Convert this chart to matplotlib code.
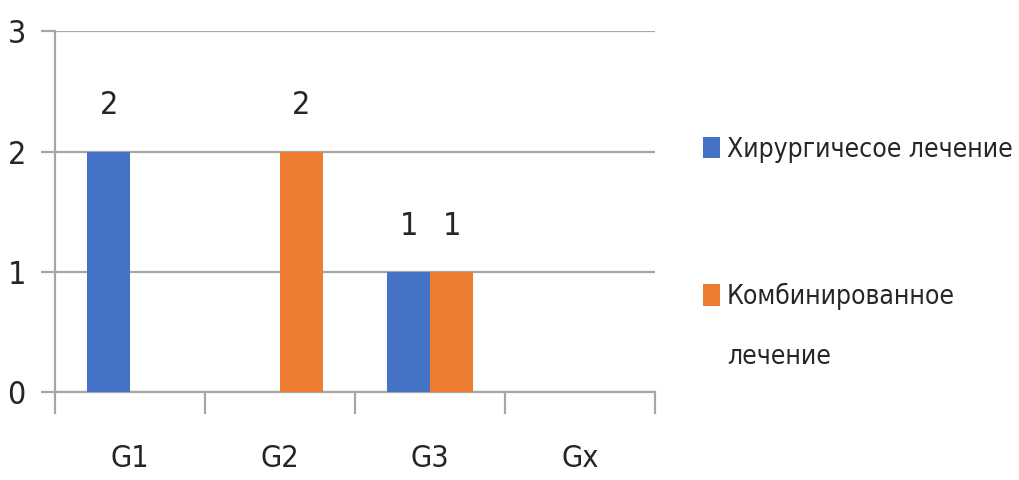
import numpy as np
import matplotlib.pyplot as plt

# Данные
categories = ['G1', 'G2', 'G3', 'Gx']
surgery = [2, 0, 1, 0]
combined = [0, 2, 1, 0]
surgery_label = 'Хирургичесое лечение'
combined_label = 'Комбинированное'
combined_label_2 = 'лечение'

plt.rcParams['font.family'] = ['DejaVu Sans']
plt.rcParams['font.stretch'] = 'condensed'

fig = plt.figure(figsize=(10.19, 4.8), dpi=100)
ax = fig.add_axes([0.054, 0.183, 0.589, 0.752])

x = np.arange(len(categories))
w = 0.285
b1 = ax.bar(x - w / 2, surgery, w, color='#4472C4', label=surgery_label, zorder=3)
b2 = ax.bar(x + w / 2, combined, w, color='#ED7D31', label=combined_label, zorder=3)

# Подписи значений (нули не подписываем)
for bars in (b1, b2):
    for rect in bars:
        h = rect.get_height()
        if h > 0:
            ax.annotate(f'{h:g}', (rect.get_x() + rect.get_width() / 2, h),
                        xytext=(0, 33), textcoords='offset points',
                        ha='center', va='center', fontsize=23, color='#262626')

ax.set_xlim(-0.5, len(categories) - 0.5)
ax.set_ylim(0, 3)
ax.set_yticks([0, 1, 2, 3])
ax.yaxis.grid(True, color='#A6A6A6', linewidth=1.6, zorder=0)

# Деления по границам категорий
ax.set_xticks(np.arange(len(categories) + 1) - 0.5)
ax.set_xticklabels([])
ax.set_xticks(x, minor=True)
ax.set_xticklabels(categories, minor=True)
ax.tick_params(axis='x', which='major', length=16, width=1.6, color='#A6A6A6')
ax.tick_params(axis='x', which='minor', length=0, pad=37, labelsize=22, labelcolor='#262626')
ax.tick_params(axis='y', length=10, width=1.6, color='#A6A6A6', pad=11,
               labelsize=23, labelcolor='#262626')

for side in ['top', 'right']:
    ax.spines[side].set_visible(False)
for side in ['left', 'bottom']:
    ax.spines[side].set_color('#A6A6A6')
    ax.spines[side].set_linewidth(1.6)

leg = fig.legend(handles=[b1, b2], labels=[surgery_label, combined_label],
                 loc='center left', bbox_to_anchor=(0.690, 1 - 223.5 / 480),
                 frameon=False, fontsize=19, handlelength=0.64, handleheight=0.87,
                 handletextpad=0.26, labelspacing=4.55, labelcolor='#262626',
                 borderpad=0, borderaxespad=0)
# вторая строка подписи
fig.text(727 / 1019, 1 - 357 / 480, combined_label_2, fontsize=19, color='#262626',
         ha='left', va='center')

fig.savefig('out.png', dpi=100)
